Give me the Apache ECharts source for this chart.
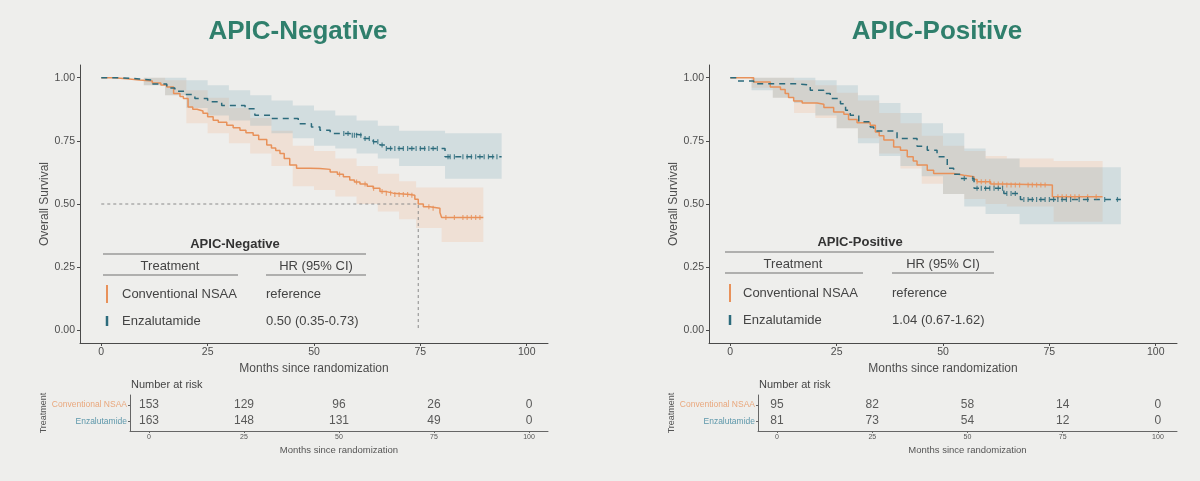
<!DOCTYPE html>
<html><head><meta charset="utf-8">
<script src="https://cdn.jsdelivr.net/npm/echarts@6/dist/echarts.min.js"></script>
<style>html,body{margin:0;padding:0;background:#eeeeec}#c{width:1200px;height:481px}</style>
</head><body><div id="c"></div>
<script>
// ---------- DATA ----------
const panelTitles = ['APIC-Negative', 'APIC-Positive'];
const groups = ['Conventional NSAA', 'Enzalutamide'];
const hrText = [['reference', '0.50 (0.35-0.73)'], ['reference', '1.04 (0.67-1.62)']];
const xTicks = [0, 25, 50, 75, 100];
const yTicks = [0, 0.25, 0.5, 0.75, 1];

// APIC-Negative, Conventional NSAA
const negConvT = [0,3,6,9,12,14,15.4,17,18.5,19.3,20.4,21.5,22.5,23.9,25,26.3,27.5,29.5,31,32.6,34,35.7,37,38.9,40,41,42,43,44.3,45.9,49,51.4,53.8,55.5,56.9,58.4,59.5,60.8,62.5,63.9,65.5,67,68.6,72.5,73.7,74.5,75.7,77.2,79.6,80,89.8];
const negConvS = [1,0.996,0.991,0.987,0.979,0.971,0.963,0.937,0.925,0.917,0.884,0.875,0.868,0.859,0.845,0.831,0.823,0.812,0.802,0.792,0.782,0.772,0.755,0.733,0.722,0.712,0.700,0.680,0.654,0.641,0.640,0.637,0.627,0.618,0.608,0.595,0.587,0.579,0.570,0.562,0.549,0.543,0.538,0.535,0.519,0.5,0.489,0.483,0.466,0.447,0.447];
const negConvCiT = [0,10,15,20,25,30,35,40,45,50,55,60,65,70,74,80,89.8];
const negConvHi  = [1,1,0.99,0.95,0.92,0.88,0.84,0.79,0.73,0.71,0.68,0.65,0.62,0.59,0.565,0.565,0.565];
const negConvLo  = [1,0.97,0.93,0.82,0.78,0.74,0.70,0.65,0.57,0.555,0.53,0.50,0.47,0.44,0.405,0.35,0.35];
const negConvCens = [56,60,62,64,66,67,68,69,70,71,72,73,77,78,81,83,85,86,87,88,89];

// APIC-Negative, Enzalutamide
const negEnzT = [0,4,9,12,15.4,17.3,19.7,22,25,28.3,33.8,36.1,40,46.3,49.4,51.4,53.8,58.4,61.5,63.9,65.5,66.7,80.8,94.1];
const negEnzS = [1,0.995,0.99,0.975,0.959,0.946,0.933,0.917,0.905,0.89,0.877,0.851,0.838,0.818,0.805,0.792,0.779,0.772,0.759,0.746,0.733,0.72,0.687,0.687];
const negEnzCiT = [0,10,15,20,25,30,35,40,45,50,55,60,65,70,80.8,94.1];
const negEnzHi  = [1,1,1,0.99,0.97,0.95,0.93,0.91,0.89,0.87,0.85,0.83,0.81,0.79,0.78,0.78];
const negEnzLo  = [1,0.97,0.93,0.88,0.85,0.83,0.81,0.78,0.76,0.73,0.72,0.70,0.68,0.65,0.60,0.60];
const negEnzCens = [57,58,59,59.5,60,61,62,63,64,65,66,67,68,69,70,71,72,73,74,75,76,77,78,79,81.5,82,83,85,86,87,88,89,90,91,92,93];

const negMedian = 74.5;

// APIC-Positive, Conventional NSAA
const posConvT = [0,5.5,9.4,11.8,12.9,13.7,14.9,16.9,20.4,22,24.3,26.7,27.8,29.8,32.9,34.1,35,36.1,38.4,40,41.6,43,43.9,46.3,47.8,52.5,54.9,57.3,58,61.2,64.3,75.7,87.5];
const posConvS = [1,0.983,0.963,0.953,0.937,0.921,0.908,0.90,0.895,0.882,0.864,0.855,0.834,0.821,0.812,0.785,0.77,0.753,0.726,0.713,0.687,0.67,0.654,0.634,0.621,0.614,0.608,0.597,0.588,0.579,0.575,0.529,0.529];
const posConvCiT = [0,5,10,15,20,25,30,35,40,45,50,55,60,65,76,87.5];
const posConvHi  = [1,1,1,0.99,0.97,0.94,0.91,0.86,0.82,0.77,0.73,0.71,0.69,0.68,0.67,0.67];
const posConvLo  = [1,0.96,0.92,0.86,0.84,0.80,0.76,0.70,0.64,0.58,0.54,0.52,0.50,0.49,0.43,0.43];
const posConvCens = [58,59,60,61,62,63,64,65,66,67,68,70,71,72,73,74,77,78,79,80,81,82,84,86];

// APIC-Positive, Enzalutamide
const posEnzT = [0,1.6,5.5,15.7,18.8,22,23.5,25.9,27.1,28.2,30.2,32.9,33.7,39.2,43.9,46.3,48.6,51,52.5,54.1,57.3,64.3,68.2,91.8];
const posEnzS = [1,0.987,0.976,0.970,0.95,0.937,0.917,0.897,0.871,0.851,0.825,0.805,0.789,0.759,0.729,0.713,0.687,0.641,0.618,0.601,0.562,0.542,0.518,0.518];
const posEnzCiT = [0,5,10,15,20,25,30,35,40,45,50,55,60,68,91.8];
const posEnzHi  = [1,1,1,1,0.99,0.97,0.93,0.90,0.86,0.82,0.78,0.72,0.68,0.645,0.645];
const posEnzLo  = [1,0.95,0.92,0.90,0.85,0.80,0.74,0.69,0.65,0.61,0.54,0.49,0.46,0.42,0.42];
const posEnzCens = [55,57,58,59,60,61,62,63,64,65,66,67,69,70,71,72,73,74,75,76,77,78,79,80,82,84,88,91];

// Number at risk
const riskTimes = [0, 25, 50, 75, 100];
const riskNegConv = [153, 129, 96, 26, 0];
const riskNegEnz  = [163, 148, 131, 49, 0];
const riskPosConv = [95, 82, 58, 14, 0];
const riskPosEnz  = [81, 73, 54, 12, 0];

// ---------- STYLE ----------
const FONT = 'Liberation Sans, Arial, sans-serif';
const ORANGE = '#e8915a', BLUE = '#2c6b7c';
const ORANGE_BAND = 'rgba(243,160,110,0.18)', BLUE_BAND = 'rgba(100,155,175,0.20)';
const AXIS = '#4a4a4a', TXT = '#4d4d4d';

function stepAt(T, S, t) { let v = S[0]; for (let i = 0; i < T.length; i++) { if (T[i] <= t) v = S[i]; } return v; }

function band(idx, T, lo, hi, color) {
  return {
    type: 'custom', xAxisIndex: idx, yAxisIndex: idx, silent: true, z: 1, clip: true,
    data: [[T[0], hi[0]]],
    renderItem: function (params, api) {
      const up = [], dn = [];
      for (let i = 0; i < T.length; i++) {
        const tn = i < T.length - 1 ? T[i + 1] : T[i];
        up.push(api.coord([T[i], hi[i]]), api.coord([tn, hi[i]]));
        dn.push(api.coord([T[i], lo[i]]), api.coord([tn, lo[i]]));
      }
      return { type: 'polygon', shape: { points: up.concat(dn.reverse()) }, style: { fill: color } };
    }
  };
}
function curve(idx, T, S, color, dashed) {
  return {
    type: 'line', xAxisIndex: idx, yAxisIndex: idx, step: 'end', showSymbol: false, silent: true, z: 3,
    data: T.map((t, i) => [t, S[i]]),
    lineStyle: { color: color, width: 1.5, type: dashed ? [6, 5] : 'solid' }
  };
}
function cens(idx, C, T, S, color) {
  return {
    type: 'scatter', xAxisIndex: idx, yAxisIndex: idx, silent: true, z: 4,
    symbol: 'rect', symbolSize: [1.2, 5],
    data: C.map(t => [t, stepAt(T, S, t)]),
    itemStyle: { color: color }
  };
}
function risk(idx, vals, row) {
  return {
    type: 'scatter', xAxisIndex: idx, yAxisIndex: idx, symbolSize: 0, silent: true,
    data: riskTimes.map((t, i) => [t, row, vals[i]]),
    label: { show: true, position: 'inside', formatter: p => String(p.value[2]), fontSize: 12, color: '#333', fontFamily: FONT }
  };
}

const mainGrids = [{ left: 80, top: 65, width: 468, height: 278 }, { left: 709, top: 65, width: 468, height: 278 }];
const riskGrids = [{ left: 130, top: 395, width: 418, height: 36 }, { left: 758, top: 395, width: 419, height: 36 }];

function mainX(i) {
  return {
    type: 'value', gridIndex: i, min: -5, max: 105,
    axisLine: { show: true, onZero: false, lineStyle: { color: AXIS, width: 1 } },
    axisTick: { show: true, customValues: xTicks, length: 3, lineStyle: { color: AXIS } },
    axisLabel: { customValues: xTicks, fontSize: 10.5, color: TXT, margin: 4, fontFamily: FONT },
    splitLine: { show: false },
    name: 'Months since randomization', nameLocation: 'middle', nameGap: 17,
    nameTextStyle: { fontSize: 12, color: TXT, fontFamily: FONT }
  };
}
function mainY(i) {
  return {
    type: 'value', gridIndex: i, min: -0.05, max: 1.05,
    axisLine: { show: true, onZero: false, lineStyle: { color: AXIS, width: 1 } },
    axisTick: { show: true, customValues: yTicks, length: 3, lineStyle: { color: AXIS } },
    axisLabel: { customValues: yTicks, fontSize: 10.5, color: TXT, margin: 5, fontFamily: FONT, formatter: v => Number(v).toFixed(2) },
    splitLine: { show: false },
    name: 'Overall Survival', nameLocation: 'middle', nameGap: 29,
    nameTextStyle: { fontSize: 12, color: TXT, fontFamily: FONT }
  };
}
function riskX(i) {
  return {
    type: 'value', gridIndex: i, min: -5, max: 105,
    axisLine: { show: true, onZero: false, lineStyle: { color: '#666', width: 1 } },
    axisTick: { show: true, customValues: riskTimes, length: 2, lineStyle: { color: '#666' } },
    axisLabel: { customValues: riskTimes, fontSize: 7, color: '#555', margin: 3, fontFamily: FONT },
    splitLine: { show: false },
    name: 'Months since randomization', nameLocation: 'middle', nameGap: 14,
    nameTextStyle: { fontSize: 9.5, color: '#555', fontFamily: FONT }
  };
}
function riskY(i, nameGap) {
  return {
    type: 'value', gridIndex: i, min: 0.4, max: 2.6,
    axisLine: { show: true, onZero: false, lineStyle: { color: '#666', width: 1 } },
    axisTick: { show: true, customValues: [1, 2], length: 2, lineStyle: { color: '#666' } },
    axisLabel: {
      customValues: [1, 2], margin: 3, fontFamily: FONT,
      formatter: v => (v === 2 ? '{a|' + groups[0] + '}' : '{b|' + groups[1] + '}'),
      rich: { a: { color: '#e9a77c', fontSize: 8.5, fontFamily: FONT }, b: { color: '#5e98ab', fontSize: 8.5, fontFamily: FONT } }
    },
    splitLine: { show: false },
    name: 'Treatment', nameLocation: 'middle', nameGap: nameGap,
    nameTextStyle: { fontSize: 9, color: '#555', fontFamily: FONT }
  };
}

// legend table graphics (inside the plots)
function legendTable(p, L) {
  const g = [];
  const t = (x, y, s, o) => g.push(Object.assign({ type: 'text', x: x, y: y, style: Object.assign({ text: s, fontSize: 13, fill: '#444', fontFamily: FONT, textVerticalAlign: 'middle' }, o || {}) }));
  const ln = (x1, x2, y) => g.push({ type: 'line', shape: { x1: x1, y1: y, x2: x2, y2: y }, style: { stroke: '#9a9a9a', lineWidth: 1.5 } });
  const bar = (x, y1, y2, c, w) => g.push({ type: 'line', shape: { x1: x, y1: y1, x2: x, y2: y2 }, style: { stroke: c, lineWidth: w } });
  t(L.titleX, L.titleY, panelTitles[p], { fontWeight: 'bold', textAlign: 'center', fill: '#333' });
  ln(L.x0, L.x3, L.topLine);
  t(L.treatX, L.headY, 'Treatment', { textAlign: 'center' });
  t(L.hrX, L.headY, 'HR (95% CI)', { textAlign: 'center' });
  ln(L.x0, L.x1, L.subLine); ln(L.x2, L.x3, L.subLine);
  bar(L.barX, L.r1 - 9, L.r1 + 9, ORANGE, 2);
  bar(L.barX, L.r2 - 5, L.r2 + 5, BLUE, 2.5);
  t(L.textX, L.r1, groups[0]); t(L.x2, L.r1, hrText[p][0]);
  t(L.textX, L.r2, groups[1]); t(L.x2, L.r2, hrText[p][1]);
  return g;
}

const graphics = [
  { type: 'text', x: 298, y: 32, style: { text: panelTitles[0], fontSize: 26, fontWeight: 'bold', fill: '#2f7f6c', fontFamily: FONT, textAlign: 'center', textVerticalAlign: 'middle' } },
  { type: 'text', x: 937, y: 32, style: { text: panelTitles[1], fontSize: 26, fontWeight: 'bold', fill: '#2f7f6c', fontFamily: FONT, textAlign: 'center', textVerticalAlign: 'middle' } },
  { type: 'text', x: 131, y: 385, style: { text: 'Number at risk', fontSize: 11, fill: '#444', fontFamily: FONT, textVerticalAlign: 'middle' } },
  { type: 'text', x: 759, y: 385, style: { text: 'Number at risk', fontSize: 11, fill: '#444', fontFamily: FONT, textVerticalAlign: 'middle' } }
].concat(
  legendTable(0, { titleX: 235, titleY: 244, topLine: 254, x0: 103, x1: 238, x2: 266, x3: 366, treatX: 170, hrX: 316, headY: 266, subLine: 275, barX: 107, textX: 122, r1: 294, r2: 321 }),
  legendTable(1, { titleX: 860, titleY: 242, topLine: 252, x0: 725, x1: 863, x2: 892, x3: 994, treatX: 793, hrX: 943, headY: 264, subLine: 273, barX: 730, textX: 743, r1: 293, r2: 320 })
);

const option = {
  backgroundColor: '#eeeeec',
  animation: false,
  grid: mainGrids.concat(riskGrids),
  xAxis: [mainX(0), mainX(1), riskX(2), riskX(3)],
  yAxis: [mainY(0), mainY(1), riskY(2, 81), riskY(3, 81)],
  graphic: graphics,
  series: [
    band(0, negConvCiT, negConvLo, negConvHi, ORANGE_BAND),
    band(0, negEnzCiT, negEnzLo, negEnzHi, BLUE_BAND),
    band(1, posConvCiT, posConvLo, posConvHi, ORANGE_BAND),
    band(1, posEnzCiT, posEnzLo, posEnzHi, BLUE_BAND),
    {
      type: 'line', xAxisIndex: 0, yAxisIndex: 0, showSymbol: false, silent: true, z: 2,
      data: [[0, 0.5], [negMedian, 0.5], [negMedian, 0]],
      lineStyle: { color: '#8a8a8a', width: 1, type: [3, 3] }
    },
    curve(0, negConvT, negConvS, ORANGE, false),
    curve(0, negEnzT, negEnzS, BLUE, true),
    curve(1, posConvT, posConvS, ORANGE, false),
    curve(1, posEnzT, posEnzS, BLUE, true),
    cens(0, negConvCens, negConvT, negConvS, ORANGE),
    cens(0, negEnzCens, negEnzT, negEnzS, BLUE),
    cens(1, posConvCens, posConvT, posConvS, ORANGE),
    cens(1, posEnzCens, posEnzT, posEnzS, BLUE),
    risk(2, riskNegConv, 2), risk(2, riskNegEnz, 1),
    risk(3, riskPosConv, 2), risk(3, riskPosEnz, 1)
  ]
};
echarts.init(document.getElementById('c'), null, { renderer: 'canvas' }).setOption(option);
</script></body></html>
